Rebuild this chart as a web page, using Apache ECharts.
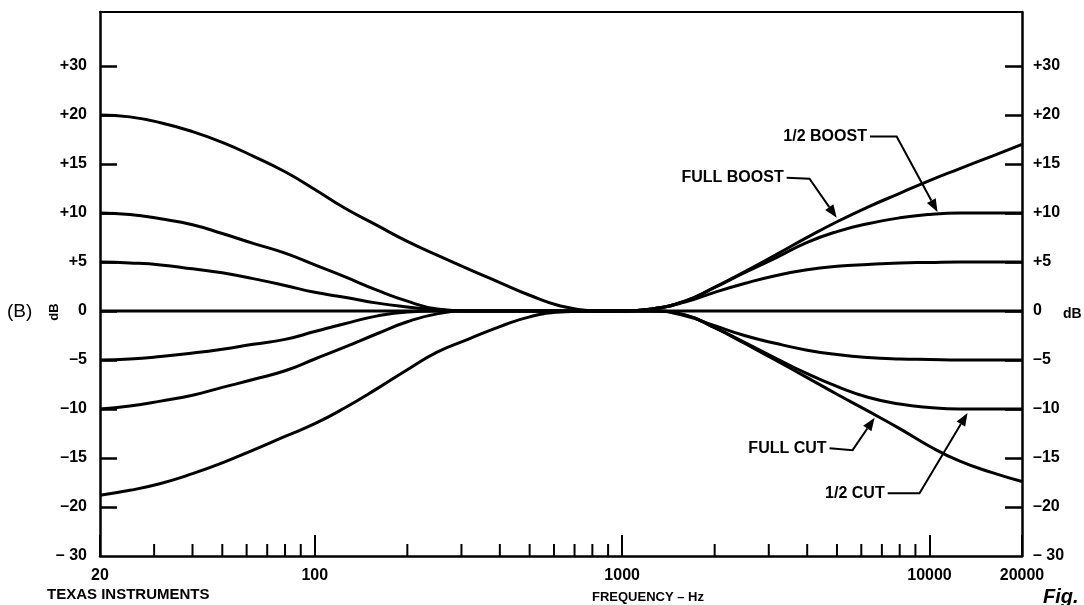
<!DOCTYPE html>
<html>
<head>
<meta charset="utf-8">
<title>Tone control response (B)</title>
<script src="https://cdn.jsdelivr.net/npm/echarts@6/dist/echarts.min.js"></script>
<style>
    html, body { margin: 0; padding: 0; background: #fff; }
    #tone_chart { width: 1084px; height: 605px; }
</style>
</head>
<body>
<div id="tone_chart"></div>
<script>
// bass half of the plot (Hz / dB)
var bassHz = [20, 25, 31.5, 40, 50, 63, 80, 100, 125, 160, 200, 250, 315, 400, 500, 630, 800];
var bassFullBoost = [20, 19.8, 19.2, 18.3, 17.2, 15.8, 14.2, 12.4, 10.5, 8.7, 7.1, 5.7, 4.3, 2.9, 1.6, 0.5, 0];
var bassHalfBoost = [10, 9.85, 9.4, 8.8, 7.9, 6.9, 5.9, 4.7, 3.5, 2.1, 1.0, 0.2, 0, 0, 0, 0, 0];
var bassQuarterBoost = [5, 4.9, 4.7, 4.3, 3.9, 3.3, 2.6, 1.9, 1.4, 0.8, 0.4, 0.1, 0, 0, 0, 0, 0];
var bassQuarterCut = [-5, -4.9, -4.65, -4.3, -3.9, -3.4, -2.9, -2.1, -1.3, -0.5, -0.1, 0, 0, 0, 0, 0, 0];
var bassHalfCut = [-10, -9.7, -9.2, -8.6, -7.8, -7.0, -6.1, -4.9, -3.7, -2.3, -1.1, -0.3, 0, 0, 0, 0, 0];
var bassFullCut = [-18.8, -18.3, -17.6, -16.6, -15.5, -14.2, -12.8, -11.5, -9.9, -7.9, -6.0, -4.2, -2.9, -1.6, -0.6, -0.1, 0];

// treble half
var trebleHz = [800, 1000, 1250, 1600, 2000, 2500, 3150, 4000, 5000, 6300, 8000, 10000, 12500, 16000, 20000];
var trebleFullBoost = [0, 0, 0.2, 1.0, 2.4, 4.0, 5.7, 7.5, 9.1, 10.6, 12.0, 13.3, 14.5, 15.8, 17.0];
var trebleHalfBoost = [0, 0, 0.2, 1.0, 2.4, 3.9, 5.4, 7.0, 8.1, 8.9, 9.5, 9.85, 10, 10, 10];
var trebleQuarterBoost = [0, 0, 0.2, 0.9, 1.9, 2.8, 3.6, 4.2, 4.55, 4.75, 4.9, 4.95, 5, 5, 5];
var trebleQuarterCut = [0, 0, 0, -0.5, -1.5, -2.5, -3.3, -4.0, -4.45, -4.75, -4.9, -4.95, -5, -5, -5];
var trebleHalfCut = [0, 0, 0, -0.4, -1.7, -3.2, -4.8, -6.4, -7.7, -8.8, -9.5, -9.85, -10, -10, -10];
var trebleFullCut = [0, 0, 0, -0.4, -1.7, -3.3, -5.0, -6.8, -8.5, -10.2, -12.0, -13.8, -15.3, -16.5, -17.4];

var flatHz = [20, 20000];
var flatDb = [0, 0];

// y scale is squeezed above +20 / below -20: axis value 25 stands for 30 dB
var yTickValues = [25, 20, 15, 10, 5, 0, -5, -10, -15, -20, -25];
var yTickLabels = ['+30', '+20', '+15', '+10', '+5', '0', '\u20135', '\u201310', '\u201315', '\u201320', '\u2013 30'];

var minorTickHz = [30, 40, 50, 60, 70, 80, 90, 200, 300, 400, 500, 600, 700, 800, 900,
    2000, 3000, 4000, 5000, 6000, 7000, 8000, 9000];

// call-outs: text end, elbow, arrow tip
var annoText = ['1/2 BOOST', 'FULL BOOST', 'FULL CUT', '1/2 CUT'];
var annoStartHz = [6400, 3430, 4730, 7310];
var annoStartDb = [17.8, 13.6, -14.0, -18.6];
var annoElbowHz = [7820, 4070, 5620, 9280];
var annoElbowDb = [17.8, 13.5, -14.2, -18.6];
var annoTipHz = [10620, 4990, 6630, 13300];
var annoTipDb = [10.1, 9.5, -10.9, -10.4];

var FONT = '"Liberation Sans", Arial, Helvetica, sans-serif';

function zip(xs, ys) {
    var out = [];
    for (var i = 0; i < xs.length; i++) {
        out.push([xs[i], ys[i]]);
    }
    return out;
}

function curve(name, xs, ys) {
    return {
        name: name,
        type: 'line',
        data: zip(xs, ys),
        showSymbol: false,
        symbol: 'none',
        smooth: 0.5,
        lineStyle: {color: '#000', width: 3},
        z: 3
    };
}

function yLabel(v) {
    var i = yTickValues.indexOf(v);
    return i < 0 ? '' : yTickLabels[i];
}

function renderMinorTick(params, api) {
    var p = api.coord([api.value(0), api.value(1)]);
    return {
        type: 'line',
        shape: {x1: p[0], y1: p[1], x2: p[0], y2: p[1] - 12},
        style: {stroke: '#000', lineWidth: 2}
    };
}

function renderCallout(params, api) {
    var i = params.dataIndex;
    var s = api.coord([annoStartHz[i], annoStartDb[i]]);
    var e = api.coord([annoElbowHz[i], annoElbowDb[i]]);
    var t = api.coord([annoTipHz[i], annoTipDb[i]]);
    var dx = t[0] - e[0], dy = t[1] - e[1];
    var len = Math.sqrt(dx * dx + dy * dy);
    var ux = dx / len, uy = dy / len;
    var hl = 13, hw = 5;
    var bx = t[0] - ux * hl, by = t[1] - uy * hl;
    return {
        type: 'group',
        children: [{
            type: 'text',
            style: {
                text: annoText[i], x: s[0] - 3, y: s[1], align: 'right', verticalAlign: 'middle',
                font: 'bold 16px ' + FONT, fill: '#000'
            }
        }, {
            type: 'polyline',
            shape: {points: [s, e, [bx, by]]},
            style: {stroke: '#000', lineWidth: 2, fill: null}
        }, {
            type: 'polygon',
            shape: {points: [t, [bx - uy * hw, by + ux * hw], [bx + uy * hw, by - ux * hw]]},
            style: {fill: '#000'}
        }]
    };
}

var toneChart = echarts.init(document.getElementById('tone_chart'));

var yAxisBase = {
    type: 'value',
    min: -25,
    max: 30.5,
    interval: 5,
    splitLine: {show: false},
    axisLine: {show: true, onZero: false, lineStyle: {color: '#000', width: 2.5}},
    axisTick: {show: true, inside: true, length: 17, customValues: [25, 20, 15, 10, 5, 0, -5, -10, -15, -20],
        lineStyle: {color: '#000', width: 2.5}},
    axisLabel: {customValues: yTickValues, formatter: yLabel, color: '#000',
        fontFamily: FONT, fontWeight: 'bold', fontSize: 16}
};

var tone_option = {
    animation: false,
    backgroundColor: '#fff',
    grid: {left: 100, right: 62, top: 12, bottom: 49},
    xAxis: [{
        type: 'log',
        logBase: 10,
        min: 20,
        max: 20000,
        position: 'bottom',
        splitLine: {show: false},
        axisLine: {show: true, onZero: false, lineStyle: {color: '#000', width: 2.5}},
        axisTick: {show: true, inside: true, length: 21, lineStyle: {color: '#000', width: 2}},
        axisLabel: {
            showMinLabel: true, showMaxLabel: true, margin: 12,
            color: '#000', fontFamily: FONT, fontWeight: 'bold', fontSize: 16,
            formatter: function (v) { return String(Math.round(v)); }
        }
    }, {
        type: 'log',
        logBase: 10,
        min: 20,
        max: 20000,
        position: 'top',
        splitLine: {show: false},
        axisLine: {show: true, onZero: false, lineStyle: {color: '#000', width: 2}},
        axisTick: {show: false},
        axisLabel: {show: false}
    }],
    yAxis: [
        Object.assign({}, yAxisBase, {position: 'left',
            axisLabel: Object.assign({}, yAxisBase.axisLabel, {margin: 13})}),
        Object.assign({}, yAxisBase, {position: 'right',
            axisLabel: Object.assign({}, yAxisBase.axisLabel, {margin: 11})})
    ],
    graphic: [
        {type: 'text', x: 7, y: 312, style: {text: '(B)', verticalAlign: 'middle', font: '19px ' + FONT, fill: '#000'}},
        {type: 'text', x: 54, y: 312, rotation: Math.PI / 2,
            style: {text: 'dB', align: 'center', verticalAlign: 'middle', font: 'bold 13px ' + FONT, fill: '#000'}},
        {type: 'text', x: 1063, y: 314, style: {text: 'dB', verticalAlign: 'middle', font: 'bold 14px ' + FONT, fill: '#000'}},
        {type: 'text', x: 47, y: 595, style: {text: 'TEXAS INSTRUMENTS', verticalAlign: 'middle', font: 'bold 15px ' + FONT, fill: '#000'}},
        {type: 'text', x: 592, y: 597, style: {text: 'FREQUENCY \u2013 Hz', verticalAlign: 'middle', font: 'bold 13px ' + FONT, fill: '#000'}},
        {type: 'text', x: 1043, y: 597, style: {text: 'Fig. 7', verticalAlign: 'middle', font: 'italic bold 20px ' + FONT, fill: '#000'}}
    ],
    series: [
        curve('flat', flatHz, flatDb),
        curve('bass full boost', bassHz, bassFullBoost),
        curve('bass 1/2 boost', bassHz, bassHalfBoost),
        curve('bass 1/4 boost', bassHz, bassQuarterBoost),
        curve('bass 1/4 cut', bassHz, bassQuarterCut),
        curve('bass 1/2 cut', bassHz, bassHalfCut),
        curve('bass full cut', bassHz, bassFullCut),
        curve('treble full boost', trebleHz, trebleFullBoost),
        curve('treble 1/2 boost', trebleHz, trebleHalfBoost),
        curve('treble 1/4 boost', trebleHz, trebleQuarterBoost),
        curve('treble 1/4 cut', trebleHz, trebleQuarterCut),
        curve('treble 1/2 cut', trebleHz, trebleHalfCut),
        curve('treble full cut', trebleHz, trebleFullCut),
        {
            name: 'minor ticks',
            type: 'custom',
            renderItem: renderMinorTick,
            data: minorTickHz.map(function (f) { return [f, -25]; }),
            encode: {x: 0, y: 1},
            z: 4
        },
        {
            name: 'callouts',
            type: 'custom',
            renderItem: renderCallout,
            data: annoText.map(function (t, i) { return [annoTipHz[i], annoTipDb[i]]; }),
            encode: {x: 0, y: 1},
            z: 5
        }
    ]
};
toneChart.setOption(tone_option);
</script>
</body>
</html>
